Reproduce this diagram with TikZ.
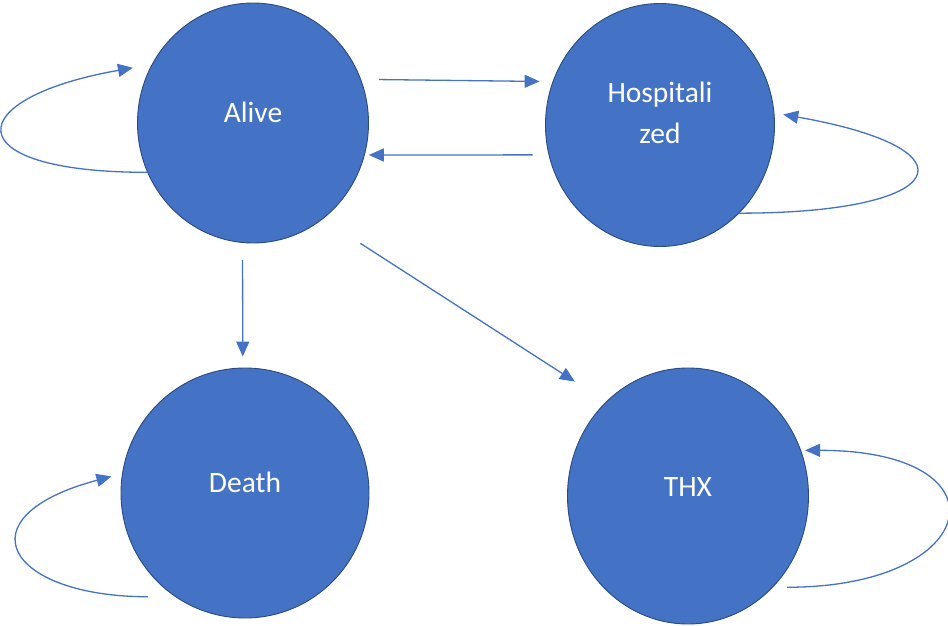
\documentclass[tikz,border=0pt]{standalone}
\usepackage{fontspec}
\setmainfont{Carlito}
\usetikzlibrary{shapes.geometric,arrows.meta}
\definecolor{stfill}{HTML}{4472C4}
\definecolor{stedge}{HTML}{2A4A80}
\definecolor{arrcol}{HTML}{4472C4}
\tikzset{
  state/.style={ellipse, fill=stfill, draw=stedge, line width=0.9pt, inner sep=0pt},
  statetext/.style={text=white, font=\fontsize{29.5}{41}\selectfont, align=center, inner sep=0pt},
  arr/.style={draw=arrcol, line width=1.3pt, -{Triangle[length=15pt,width=13pt]}}
}
\begin{document}
\begin{tikzpicture}[x=1pt,y=1pt]
\useasboundingbox (0,0) rectangle (948,625);

% states
\node[state, minimum width=231pt, minimum height=240pt] (alive) at (253,502) {};
\node[state, minimum width=229pt, minimum height=243pt] (hosp)  at (660,500) {};
\node[state, minimum width=248pt, minimum height=250pt] (death) at (245,132) {};
\node[state, minimum width=241pt, minimum height=256pt] (thx)   at (688,129) {};

% state names
\node[statetext] (aliveT) at ([yshift=11pt]alive.center) {Alive};
\node[statetext] (hospT)  at ([yshift=12pt]hosp.center)  {Hospitali\\zed};
\node[statetext] (deathT) at ([yshift=11pt]death.center) {Death};
\node[statetext] (thxT)   at ([yshift=9pt]thx.center)    {THX};

% transitions between states
\draw[arr, shorten <=18pt, shorten >=13pt] (alive.22) -- (hosp.158);
\draw[arr, shorten <=16pt, shorten >=4pt] (hosp.195) -- (alive.344);
\draw[arr, shorten <=17pt, shorten >=11pt] (alive.265) -- (death.91);
\draw[arr, shorten <=44.5pt, shorten >=37pt] (alive.306) -- (thx.131.5);

% self loops
\draw[arr, shorten >=19pt] (alive.205) to[out=180, in=190, distance=194pt] (alive.150);
\draw[arr, shorten >=9pt] (hosp.312) to[out=0, in=350, distance=210pt] (hosp.6);
\draw[arr, shorten <=27pt, shorten >=11pt] (death.236) to[out=180, in=195, distance=168pt] (death.171);
\draw[arr, shorten <=14pt, shorten >=4pt] (thx.313.6) to[out=0, in=0, distance=210pt] (thx.22);
\end{tikzpicture}
\end{document}
